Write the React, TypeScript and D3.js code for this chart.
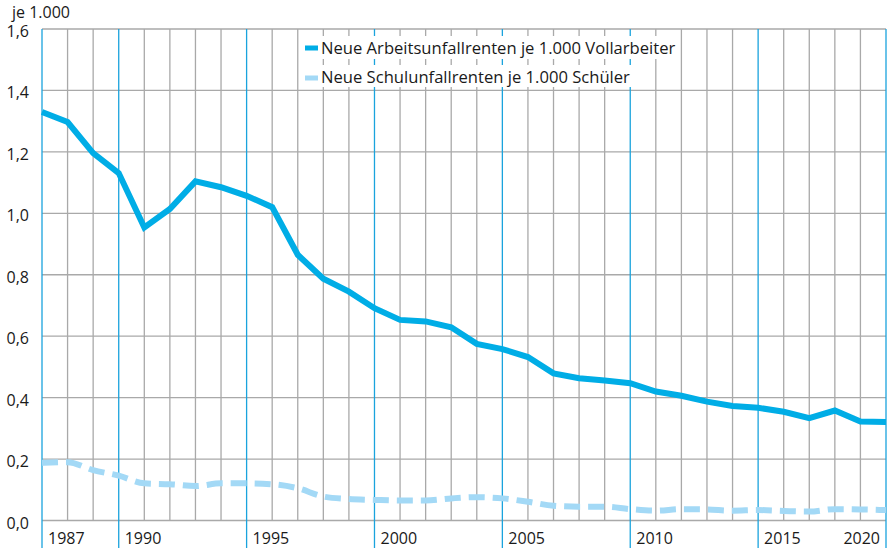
import React from "react";
import * as d3 from "d3";

const years: number[] = d3.range(1987, 2021);
const arbeitsunfall: number[] = [
  1.33, 1.297, 1.196, 1.131, 0.954, 1.014, 1.104, 1.085, 1.057, 1.02,
  0.865, 0.787, 0.745, 0.691, 0.653, 0.648, 0.629, 0.575, 0.558, 0.532,
  0.479, 0.463, 0.456, 0.447, 0.42, 0.406, 0.387, 0.373, 0.367, 0.354,
  0.333, 0.358, 0.322, 0.321,
];
const schulunfall: number[] = [
  0.188, 0.19, 0.164, 0.146, 0.121, 0.118, 0.112, 0.121, 0.121, 0.118,
  0.105, 0.078, 0.07, 0.067, 0.065, 0.065, 0.072, 0.076, 0.072, 0.061,
  0.048, 0.045, 0.045, 0.037, 0.032, 0.037, 0.036, 0.032, 0.034, 0.031,
  0.029, 0.037, 0.036, 0.034,
];
const yTicks: number[] = [0, 0.2, 0.4, 0.6, 0.8, 1.0, 1.2, 1.4, 1.6];
const labelYears: number[] = [1987, 1990, 1995, 2000, 2005, 2010, 2015, 2020];
const seriesNames: string[] = [
  "Neue Arbeitsunfallrenten je 1.000 Vollarbeiter",
  "Neue Schulunfallrenten je 1.000 Schüler",
];
const unitLabel = "je 1.000";

const W = 891;
const H = 548;
const FONT = "'Open Sans', sans-serif";
const BLUE = "#00ade6";
const LIGHT = "#a3d9f6";
const GRID = "#a9a9a9";
const VBLUE = "#1aa3dd";

export default function App() {
  const x = d3.scaleLinear().domain([1987, 2020]).range([42, 886]);
  const y = d3.scaleLinear().domain([0, 1.6]).range([520.5, 29]);
  const fmt = (v: number) => v.toFixed(1).replace(".", ",");

  const solid = d3
    .line<number>()
    .x((_, i) => x(years[i]))
    .y((d) => y(d))
    .curve(d3.curveLinear);
  const dashed = d3
    .line<number>()
    .x((_, i) => x(years[i]))
    .y((d) => y(d))
    .curve(d3.curveMonotoneX);

  const isBlue = (yr: number) => yr === 1987 || yr % 5 === 0;

  return (
    <svg
      width={W}
      height={H}
      style={{ position: "absolute", left: 0, top: 0, background: "#fff" }}
      fontFamily={FONT}
    >
      {/* horizontal grid */}
      {yTicks.map((t) => (
        <line key={"h" + t} x1={x(1987)} x2={x(2020)} y1={y(t)} y2={y(t)} stroke={GRID} strokeWidth={1.3} />
      ))}
      {/* vertical gray grid */}
      {years.filter((yr) => !isBlue(yr)).map((yr) => (
        <line key={"v" + yr} x1={x(yr)} x2={x(yr)} y1={y(1.6)} y2={y(0)} stroke={GRID} strokeWidth={1.3} />
      ))}
      {/* vertical blue lines */}
      {years.filter(isBlue).map((yr) => (
        <line key={"b" + yr} x1={x(yr)} x2={x(yr)} y1={y(1.6)} y2={H} stroke={VBLUE} strokeWidth={1.3} />
      ))}
      {/* y labels */}
      {yTicks.map((t) => (
        <text key={"yl" + t} x={29} y={y(t)} dy={8} textAnchor="end" fontSize={16} fill="#1a1a1a">
          {fmt(t)}
        </text>
      ))}
      <text x={12} y={18} fontSize={16} fill="#1a1a1a">{unitLabel}</text>
      {/* x labels */}
      {labelYears.map((yr, i) => {
        const last = i === labelYears.length - 1;
        return (
          <text
            key={"xl" + yr}
            x={last ? x(yr) - 6 : x(yr) + 6}
            y={544}
            textAnchor={last ? "end" : "start"}
            fontSize={16}
            fill="#1a1a1a"
          >
            {yr}
          </text>
        );
      })}
      {/* series */}
      <path d={dashed(schulunfall) || ""} fill="none" stroke={LIGHT} strokeWidth={6} strokeDasharray="16 8" />
      <path d={solid(arbeitsunfall) || ""} fill="none" stroke={BLUE} strokeWidth={6} strokeLinejoin="miter" />
      {/* legend */}
      <rect x={302} y={36} width={376} height={23} fill="#fff" />
      <rect x={302} y={65} width={339} height={22} fill="#fff" />
      <rect x={305} y={45.5} width={13} height={5} fill={BLUE} />
      <rect x={305} y={75.5} width={13} height={5} fill={LIGHT} />
      <text x={321} y={54} fontSize={16.6} fill="#1a1a1a">{seriesNames[0]}</text>
      <text x={321} y={83} fontSize={16.6} fill="#1a1a1a">{seriesNames[1]}</text>
    </svg>
  );
}
